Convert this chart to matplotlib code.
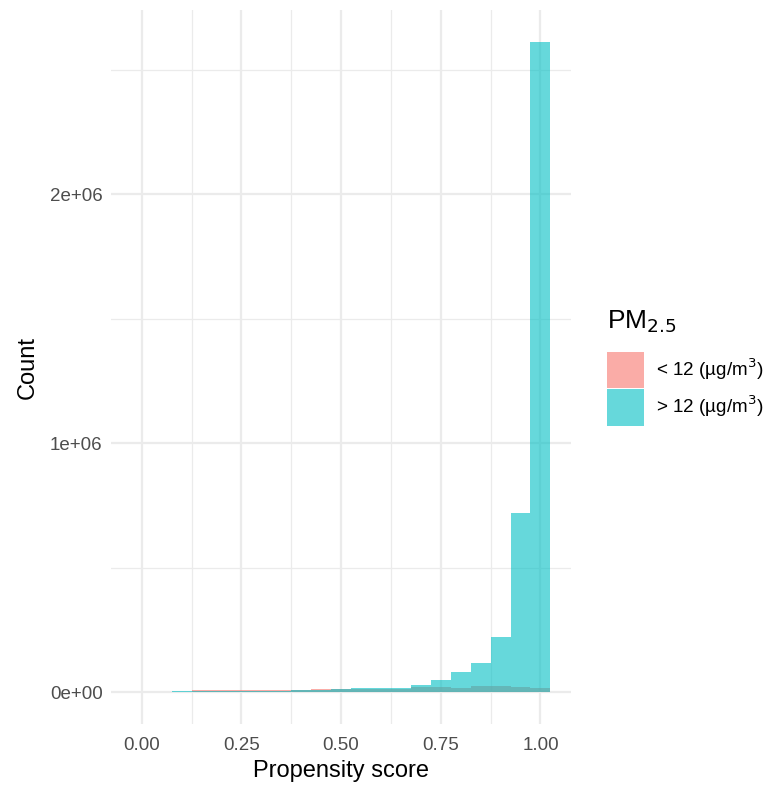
import numpy as np
import matplotlib
matplotlib.use("Agg")
import matplotlib.pyplot as plt
from matplotlib.patches import Patch

plt.rcParams['font.family'] = ['Liberation Sans', 'DejaVu Sans']

# histogram bins (centres), width 0.05
bin_centers = np.round(np.arange(0, 1.0001, 0.05), 2)
bin_width = 0.05

# counts per bin for each exposure group
counts_low = [500, 1000, 2000, 6500, 7000, 7500, 7500, 7500, 7500, 11000, 11000,
              12000, 12000, 13400, 20000, 18700, 14700, 22800, 22800, 21400, 16000]
counts_high = [0, 1500, 2500, 4000, 4500, 5000, 5500, 6000, 8000, 9000, 11000,
               17000, 17000, 17000, 28000, 47000, 82000, 115000, 221000, 720000, 2610000]

group_labels = ['< 12 (µg/m$^3$)', '> 12 (µg/m$^3$)']
group_colors = ['#F8766D', '#00BFC4']
fill_alpha = 0.6

x_ticks = [0.0, 0.25, 0.5, 0.75, 1.0]
x_ticklabels = ['0.00', '0.25', '0.50', '0.75', '1.00']
y_ticks = [0, 1e6, 2e6]
y_ticklabels = ['0e+00', '1e+06', '2e+06']

fig = plt.figure(figsize=(7.7, 7.88), dpi=100)
ax = fig.add_axes([0.144, 0.0806, 0.598, 0.907])

for counts, color in zip([counts_low, counts_high], group_colors):
    ax.bar(bin_centers, counts, width=bin_width, color=color, alpha=fill_alpha,
           linewidth=0, zorder=2)

# ggplot-like 5% expansion
lo, hi = bin_centers[0] - bin_width / 2, bin_centers[-1] + bin_width / 2
pad = (hi - lo) * 0.05
ax.set_xlim(lo - pad, hi + pad)
ymax = max(counts_high)
ax.set_ylim(-0.05 * ymax, 1.05 * ymax)

ax.set_xticks(x_ticks)
ax.set_xticklabels(x_ticklabels)
ax.set_xticks([0.125, 0.375, 0.625, 0.875], minor=True)
ax.set_yticks(y_ticks)
ax.set_yticklabels(y_ticklabels)
ax.set_yticks([0.5e6, 1.5e6, 2.5e6], minor=True)

ax.grid(which='major', color='#EBEBEB', linewidth=1.6, zorder=0)
ax.grid(which='minor', color='#EBEBEB', linewidth=0.9, zorder=0)
ax.set_axisbelow(True)
for s in ax.spines.values():
    s.set_visible(False)
ax.tick_params(which='both', length=0, labelsize=13.5, labelcolor='#4D4D4D')
ax.tick_params(axis='x', pad=9)
ax.tick_params(axis='y', pad=6)

ax.set_xlabel('Propensity score', fontsize=17, labelpad=4)
ax.set_ylabel('Count', fontsize=17, labelpad=8)

handles = [Patch(facecolor=c, alpha=fill_alpha, edgecolor='none') for c in group_colors]
leg = ax.legend(handles, group_labels, title='PM$_{2.5}$', loc='center left',
                bbox_to_anchor=(1.078, 0.5), frameon=False, fontsize=13.6,
                title_fontsize=19, handlelength=1.92, handleheight=2.6,
                labelspacing=0.05, handletextpad=0.65, borderaxespad=0,
                borderpad=0)
leg._legend_box.align = 'left'
leg._legend_box.sep = 12

fig.savefig('out.png', dpi=100)
